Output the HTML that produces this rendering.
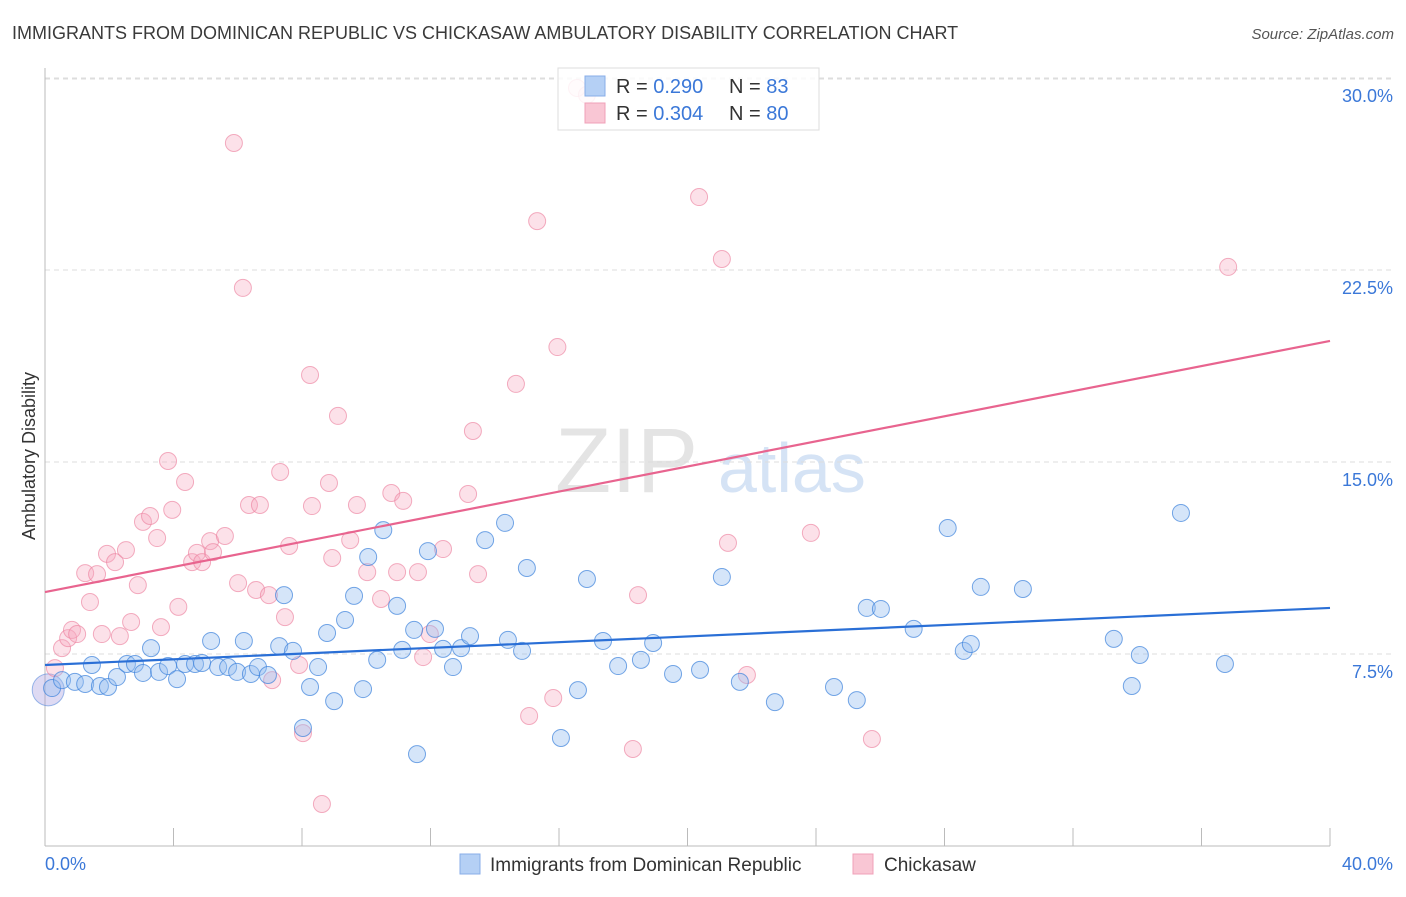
<!DOCTYPE html>
<html><head><meta charset="utf-8"><style>
body{margin:0;background:#fff;font-family:"Liberation Sans",sans-serif}
svg text{font-family:"Liberation Sans",sans-serif}
</style></head><body>
<svg id="chart" width="1406" height="892" xmlns="http://www.w3.org/2000/svg">
<text x="12" y="39" font-size="18" fill="#3a3a3a">IMMIGRANTS FROM DOMINICAN REPUBLIC VS CHICKASAW AMBULATORY DISABILITY CORRELATION CHART</text>
<text x="1394" y="39" font-size="15" fill="#555" text-anchor="end" font-style="italic">Source: ZipAtlas.com</text>
<g>
<text x="555" y="492" font-size="92" fill="#e4e4e4" font-family="Liberation Serif, serif">ZIP</text>
<text x="718" y="492" font-size="70" fill="#d5e3f5">atlas</text>
</g>
<g id="grid"></g>
<g id="axes"></g>
<g id="points"></g>
<g id="trends"></g>
<text transform="translate(35,456) rotate(-90)" font-size="18" fill="#333" text-anchor="middle">Ambulatory Disability</text>
<g>
<rect x="558" y="68" width="261" height="62" fill="#fff" fill-opacity="0.85" stroke="#ddd"/>
<rect x="585" y="76" width="20" height="20" fill="#b5d0f5" stroke="#88aee8"/>
<rect x="585" y="103" width="20" height="20" fill="#f9c6d4" stroke="#f0a0b8"/>
<text x="616" y="93" font-size="20" fill="#333">R = <tspan fill="#3b78d8">0.290</tspan><tspan x="729">N = </tspan><tspan fill="#3b78d8">83</tspan></text>
<text x="616" y="120" font-size="20" fill="#333">R = <tspan fill="#3b78d8">0.304</tspan><tspan x="729">N = </tspan><tspan fill="#3b78d8">80</tspan></text>
</g>
<g>
<rect x="460" y="854" width="20" height="20" fill="#b5d0f5" stroke="#88aee8"/>
<text x="490" y="871" font-size="19" fill="#333">Immigrants from Dominican Republic</text>
<rect x="853" y="854" width="20" height="20" fill="#f9c6d4" stroke="#f0a0b8"/>
<text x="884" y="871" font-size="19" fill="#333">Chickasaw</text>
</g>
</svg>
<script>
const blueX=[0.22,0.53,0.93,1.25,1.46,1.71,1.96,2.24,2.55,2.80,3.05,3.30,3.55,3.83,4.11,4.36,4.67,4.89,5.17,5.39,5.70,5.98,6.19,6.41,6.63,6.94,7.29,7.44,7.72,8.03,8.25,8.50,8.78,9.00,9.34,9.62,9.90,10.06,10.34,10.53,10.96,11.12,11.49,11.58,11.92,12.14,12.39,12.70,12.95,13.23,13.70,14.32,14.41,14.85,15.00,16.06,16.59,16.87,17.37,17.84,18.55,18.93,19.55,20.39,21.07,21.63,22.72,24.56,25.27,25.58,26.02,27.04,28.10,28.60,28.82,29.13,30.44,33.27,33.83,34.08,35.36,36.73];
const blueY=[6.17,6.48,6.41,6.33,7.07,6.25,6.21,6.60,7.11,7.11,6.76,7.73,6.80,7.03,6.52,7.11,7.11,7.15,8.01,6.99,6.99,6.80,8.01,6.72,6.99,6.68,7.81,9.80,7.62,4.61,6.21,6.99,8.32,5.66,8.83,9.77,6.13,11.29,7.27,12.34,9.38,7.66,8.44,3.59,11.52,8.48,7.70,6.99,7.73,8.20,11.95,12.62,8.05,7.62,10.86,4.22,6.09,10.43,8.01,7.03,7.27,7.93,6.72,6.88,10.51,6.41,5.62,6.21,5.70,9.30,9.26,8.48,12.42,7.62,7.89,10.12,10.04,8.09,6.25,7.46,13.01,7.11];
const pinkX=[0.31,0.53,0.72,0.84,1.00,1.25,1.40,1.62,1.77,1.93,2.18,2.33,2.52,2.68,2.89,3.05,3.27,3.49,3.61,3.83,3.96,4.15,4.36,4.58,4.73,4.89,5.14,5.23,5.60,5.88,6.01,6.16,6.35,6.57,6.69,6.97,7.07,7.32,7.47,7.60,7.91,8.03,8.25,8.31,8.62,8.84,8.94,9.12,9.50,9.71,10.03,10.46,10.78,10.96,11.15,11.61,11.77,11.98,12.39,13.32,13.17,13.48,14.66,15.07,15.32,15.82,15.95,16.56,16.87,18.30,18.46,20.36,21.07,21.26,21.85,23.84,25.74,36.83];
const pinkY=[6.95,7.73,8.12,8.44,8.28,10.66,9.53,10.62,8.28,11.41,11.09,8.20,11.56,8.75,10.19,12.66,12.89,12.03,8.55,15.04,13.13,9.34,14.22,11.09,11.45,11.09,11.91,11.48,12.11,27.46,10.27,21.80,13.32,10.00,13.32,9.80,6.48,14.61,8.94,11.72,7.07,4.41,18.40,13.28,1.64,14.18,11.25,16.80,11.95,13.32,10.70,9.65,13.79,10.70,13.48,10.70,7.38,8.28,11.60,16.21,13.75,10.62,18.05,5.08,24.41,5.78,19.49,29.61,29.34,3.79,9.80,25.35,22.93,11.84,6.68,12.23,4.18,22.62];
const blueTrend=[7.07,9.30];
const pinkTrend=[9.92,19.73];
const yTicks=[7.5,15.0,22.5,30.0];
const yTickLabels=["7.5%","15.0%","22.5%","30.0%"];
const xTickCount=10;
const xEndLabels=["0.0%","40.0%"];

const NS="http://www.w3.org/2000/svg";
const X0=45,X1=1330,Y0=846,PXY=192/7.5;
function sx(v){return X0+(v/40)*(X1-X0);}
function sy(v){return Y0-v*PXY;}
function mk(tag,attrs,parent){const e=document.createElementNS(NS,tag);for(const k in attrs)e.setAttribute(k,attrs[k]);parent.appendChild(e);return e;}
const grid=document.getElementById('grid'),axes=document.getElementById('axes'),pts=document.getElementById('points'),tr=document.getElementById('trends');
yTicks.forEach((t,i)=>{
 const l=mk('line',{x1:X0,x2:1394,y1:sy(t),y2:sy(t),stroke:'#ddd','stroke-dasharray':'5,4'},grid);
 
 
 const tx=mk('text',{x:1393,y:sy(t)+24,'font-size':18,fill:'#3b78d8','text-anchor':'end'},axes);
 tx.textContent=yTickLabels[i];
 
 
});
const topG=mk('line',{x1:X0,x2:1394,y1:79,y2:79,stroke:'#ddd','stroke-dasharray':'5,4'},grid);


const ax=mk('line',{x1:X0,x2:X1,y1:Y0,y2:Y0,stroke:'#bbb'},axes);


const ay=mk('line',{x1:X0,x2:X0,y1:68,y2:Y0,stroke:'#bbb'},axes);


for(let i=0;i<=xTickCount;i++){
 const v=40*i/xTickCount;
 const t=mk('line',{x1:sx(v),x2:sx(v),y1:828,y2:Y0,stroke:'#bbb'},axes);
 
 
}
const xl0=mk('text',{x:45,y:870,'font-size':18,fill:'#3b78d8'},axes);
xl0.textContent=xEndLabels[0];


const xl1=mk('text',{x:1393,y:870,'font-size':18,fill:'#3b78d8','text-anchor':'end'},axes);
xl1.textContent=xEndLabels[1];


const big=mk('circle',{cx:sx(0.1),cy:sy(6.1),r:16,fill:'rgba(160,150,220,0.35)',stroke:'rgba(90,140,220,0.6)'},pts);


pinkX.forEach((x,i)=>{
 const c=mk('circle',{cx:sx(x),cy:sy(pinkY[i]),r:8.5,fill:'rgba(246,170,192,0.35)',stroke:'rgba(236,130,160,0.65)','stroke-width':1},pts);
 
 
});
blueX.forEach((x,i)=>{
 const c=mk('circle',{cx:sx(x),cy:sy(blueY[i]),r:8.5,fill:'rgba(150,190,240,0.4)',stroke:'rgba(60,130,220,0.7)','stroke-width':1},pts);
 
 
});
const bl=mk('line',{x1:sx(0),x2:sx(40),y1:sy(blueTrend[0]),y2:sy(blueTrend[1]),stroke:'#2a6fd6','stroke-width':2.2},tr);


const pl=mk('line',{x1:sx(0),x2:sx(40),y1:sy(pinkTrend[0]),y2:sy(pinkTrend[1]),stroke:'#e8648f','stroke-width':2.2},tr);


</script>
</body></html>
